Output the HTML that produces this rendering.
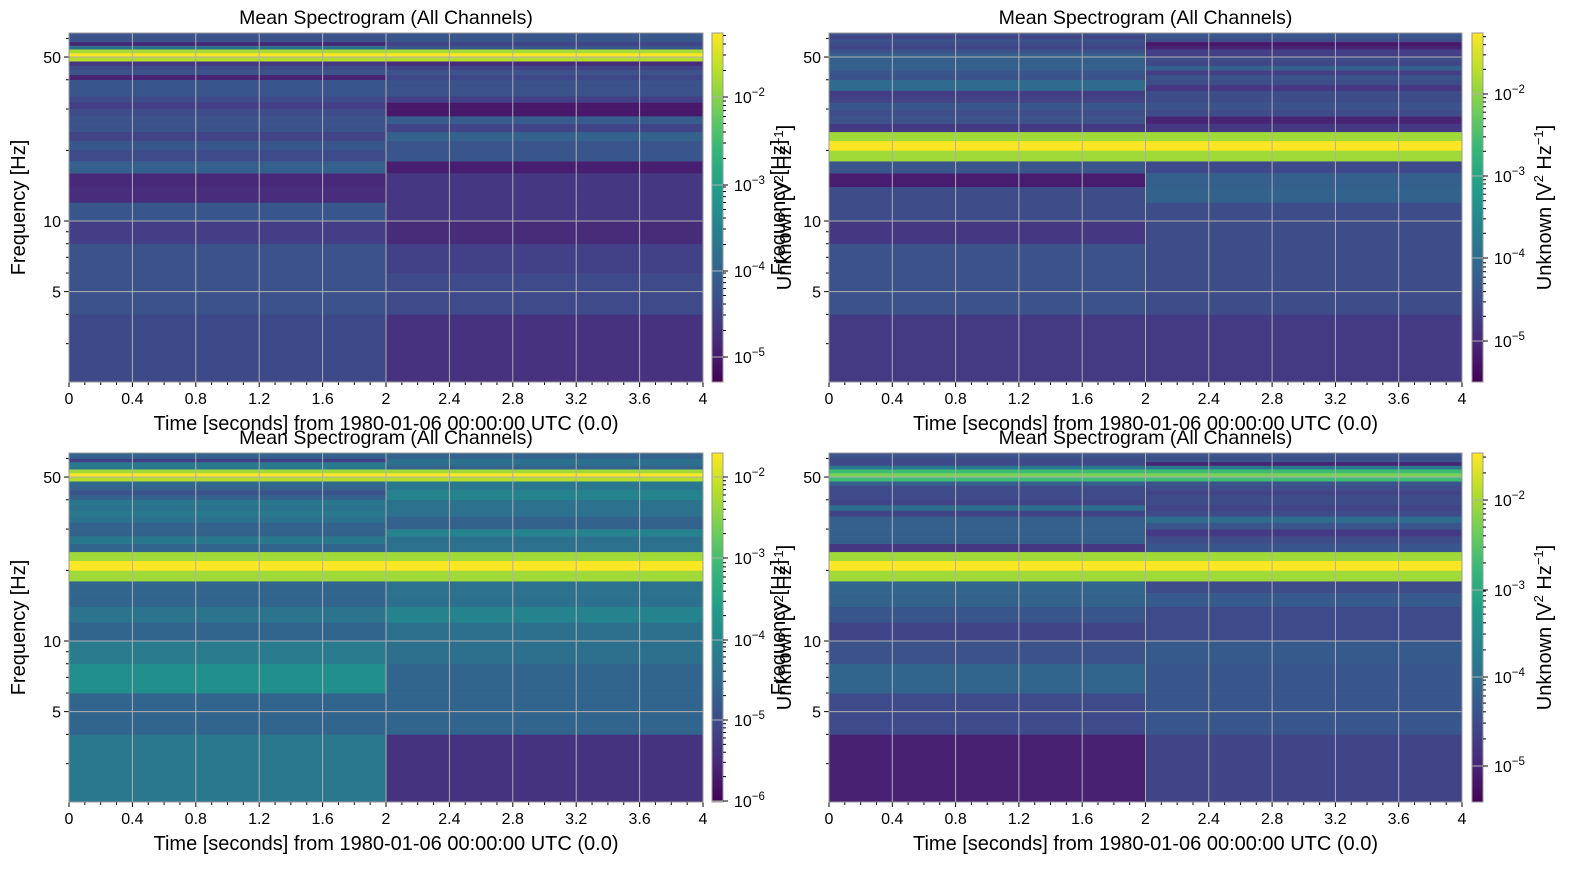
<!DOCTYPE html>
<html><head><meta charset="utf-8"><style>
body{margin:0;background:#fff}
svg text{font-family:"Liberation Sans","DejaVu Sans",sans-serif;fill:#000}
</style></head><body>
<svg id="s" width="1570" height="865" xmlns="http://www.w3.org/2000/svg"></svg>
<script>
const G='#a0da39',Y='#fde725',B='#b5de2b';
const P=[
{x:69,y:33,w:634,cb:712,ticks:[[97,-2],[185,-3],[271,-4],[357,-5]],
 L:['#3e4989','#3b528b','#3b528b','#433e85','#39568c','#472d7b','#482878','#355f8d','#3e4a89','#39568c','#414487','#3b528b','#3b528b','#3e4c8a','#433e85','#3e4a89','#3a548c','#39568c','#39568c','#482475','#3b528b','#3e4a89','#453781',B,Y,'#a8db34','#2d708e','#482475','#3b528b','#3b528b','#3b528b'],
 R:['#46327e','#3e4a89','#424086','#472c7a','#453781','#453781','#453781','#481f70','#39568c','#3a548c','#33628d','#414487','#365c8d','#48186a','#48186a','#433e85','#3b528b','#3b528b','#3b528b','#3f4788','#3b528b','#414487','#472c7a',B,Y,'#a8db34','#39568c','#414487','#39568c','#39568c','#39568c']},
{x:829,y:33,w:633,cb:1472,ticks:[[94,-2],[176,-3],[258,-4],[341,-5]],
 L:['#443983','#3b528b','#3b528b','#453781','#3e4c8a','#3e4c8a','#481c6e','#3a548c',G,Y,G,'#443983','#3b528b','#3d4e8a','#39568c','#414487','#433e85','#2f6b8e','#2f6b8e','#3b528b','#39568c','#35608d','#35608d','#35608d','#35608d','#3b528b','#414487','#3e4c8a','#3b528b','#414487','#3b528b'],
 R:['#443983','#3e4c8a','#3e4c8a','#3e4c8a','#3e4c8a','#33638d','#35608d','#3e4a89',G,Y,G,'#453781','#482475','#3e4c8a','#3b528b','#3e4c8a','#3e4c8a','#453781','#3e4c8a','#3b528b','#433e85','#33638d','#414487','#3e4c8a','#433e85','#433e85','#482475','#48186a','#3e4c8a','#39568c','#39568c']},
{x:69,y:453,w:634,cb:712,ticks:[[477,-2],[558,-3],[640,-4],[720,-5],[801,-6]],
 L:['#2a788e','#31658e','#21908d','#287c8e','#31658e','#2c738e','#31658e','#31658e',G,Y,G,'#31658e','#2a788e','#33638d','#33638d','#2c728e','#2a788e','#2c728e','#2a788e','#33638d','#3b528b','#33638d','#2f6b8e',B,Y,G,'#2a788e','#2a788e','#433e85','#33638d','#33638d'],
 R:['#46337f','#31658e','#31658e','#2d708e','#2d708e','#25838e','#2c728e','#2c728e',G,Y,G,'#2c728e','#2d708e','#25838e','#33638d','#33638d','#2c728e','#2c728e','#2c728e','#25838e','#25838e','#2a788e','#2a788e',B,Y,G,'#33638d','#2d708e','#2c728e','#33638d','#33638d']},
{x:829,y:453,w:633,cb:1472,ticks:[[500,-2],[590,-3],[677,-4],[766,-5]],
 L:['#482173','#3e4a89','#31658e','#3b528b','#414487','#39568c','#33638d','#31658e',G,Y,G,'#453781','#35608d','#35608d','#35608d','#35608d','#414487','#2e6d8e','#414487','#3e4a89','#3e4a89','#3e4a89','#35608d','#3dbc74','#7ad151','#3dbc74','#2a788e','#3e4a89','#3e4a89','#3b528b','#3b528b'],
 R:['#414487','#39568c','#39568c','#375a8c','#3e4a89','#3e4a89','#375a8c','#3e4c8a',G,Y,G,'#39568c','#3e4c8a','#443983','#39568c','#2e6d8e','#3e4c8a','#414487','#3e4c8a','#3e4c8a','#414487','#3e4c8a','#39568c','#3dbc74','#7ad151','#3dbc74','#2a788e','#482475','#3b528b','#3b528b','#3b528b']}
];
const vir=['#440154','#482878','#3e4989','#31688e','#26828e','#1f9e89','#35b779','#6ece58','#b5de2b','#fde725'];
let h='<defs><linearGradient id="v" x1="0" y1="1" x2="0" y2="0">'+vir.map((c,i)=>`<stop offset="${i/9}" stop-color="${c}"/>`).join('')+'</linearGradient></defs>';
const H=349;
P.forEach(p=>{
 const off=p.y-33;
 const fy=f=>221+off-234.6*Math.log10(f/10);
 const half=p.w/2;
 for(let i=0;i<31;i++){
  let y1=Math.max(fy(2*i+4),p.y), y2=Math.min(fy(2*i+2),p.y+H);
  h+=`<rect x="${p.x}" y="${y1}" width="${half+0.5}" height="${y2-y1+0.3}" fill="${p.L[i]}"/>`;
  h+=`<rect x="${p.x+half}" y="${y1}" width="${half}" height="${y2-y1+0.3}" fill="${p.R[i]}"/>`;
 }
 for(let k=0;k<=10;k++){const x=p.x+p.w*k/10;
  if(k>0&&k<10)h+=`<line x1="${x}" y1="${p.y}" x2="${x}" y2="${p.y+H}" stroke="#b0b0b0" stroke-width="1"/>`;
  h+=`<line x1="${x}" y1="${p.y+H}" x2="${x}" y2="${p.y+H+5}" stroke="#000"/>`;
  h+=`<text x="${x}" y="${p.y+H+22}" font-size="16" text-anchor="middle">${k==0?'0':k==10?'4':k==5?'2':(0.4*k).toFixed(1)}</text>`;
 }
 for(let k=0;k<=40;k++){if(k%4==0)continue;const x=p.x+p.w*k/40;h+=`<line x1="${x}" y1="${p.y+H}" x2="${x}" y2="${p.y+H+3}" stroke="#000"/>`;}
 [[5,'5'],[10,'10'],[50,'50']].forEach(([f,t])=>{const y=fy(f);
  h+=`<line x1="${p.x}" y1="${y}" x2="${p.x+p.w}" y2="${y}" stroke="#b0b0b0"/>`;
  h+=`<line x1="${p.x-5}" y1="${y}" x2="${p.x}" y2="${y}" stroke="#000"/>`;
  h+=`<text x="${p.x-8}" y="${y+6}" font-size="16" text-anchor="end">${t}</text>`;});
 [3,4,6,7,8,9,20,30,40,60].forEach(f=>{const y=fy(f);h+=`<line x1="${p.x-3}" y1="${y}" x2="${p.x}" y2="${y}" stroke="#000"/>`;});
 h+=`<rect x="${p.x}" y="${p.y}" width="${p.w}" height="${H}" fill="none" stroke="#999"/>`;
 h+=`<text x="${p.x+p.w/2}" y="${p.y-9}" font-size="19.5" text-anchor="middle">Mean Spectrogram (All Channels)</text>`;
 h+=`<text x="${p.x+p.w/2}" y="${p.y+H+48}" font-size="20" text-anchor="middle">Time [seconds] from 1980-01-06 00:00:00 UTC (0.0)</text>`;
 h+=`<text transform="translate(${p.x-44},${p.y+H/2}) rotate(-90)" font-size="20" text-anchor="middle">Frequency [Hz]</text>`;
 h+=`<rect x="${p.cb}" y="${p.y}" width="11" height="${H}" fill="url(#v)" stroke="#999"/>`;
 const t=p.ticks,d=(t[1][0]-t[0][0]);
 for(let j=-1;j<t.length;j++){const base=j<0?t[0][0]-d:t[j][0];
  for(let m=2;m<10;m++){const y=base-d*Math.log10(m);if(y>p.y&&y<p.y+H)h+=`<line x1="${p.cb+11}" y1="${y}" x2="${p.cb+14}" y2="${y}" stroke="#000"/>`;}}
 t.forEach(([y,e])=>{h+=`<line x1="${p.cb}" y1="${y}" x2="${p.cb+11}" y2="${y}" stroke="#b0b0b0"/><line x1="${p.cb+11}" y1="${y}" x2="${p.cb+16}" y2="${y}" stroke="#000"/>`;
  h+=`<text x="${p.cb+22}" y="${y+6}" font-size="16">10<tspan dy="-7" font-size="11.5">−${-e}</tspan></text>`;});
 h+=`<text transform="translate(${p.cb+79},${p.y+H/2}) rotate(-90)" font-size="20" text-anchor="middle">Unknown [V<tspan dy="-8" font-size="13">2</tspan><tspan dy="8"> Hz</tspan><tspan dy="-8" font-size="13">−1</tspan><tspan dy="8">]</tspan></text>`;
});
document.getElementById('s').innerHTML=h;
</script>
</body></html>
